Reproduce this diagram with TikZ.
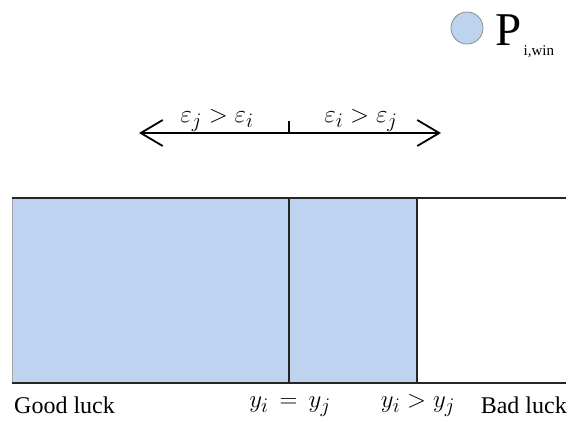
\documentclass[tikz,border=0pt]{standalone}
\usepackage{fontspec}
\setmainfont{Liberation Serif}
\usetikzlibrary{arrows.meta}
\definecolor{winblue}{HTML}{BDD3F0}
\begin{document}
\begin{tikzpicture}[x=1pt,y=-1pt,
  axis/.style={line width=1.8pt,black!85},
  divline/.style={line width=1.5pt,black!85},
  chev/.style={-{Straight Barb[length=22pt,width=26pt,line width=1.8pt]}},
  lbl/.style={inner sep=0pt,font=\fontsize{24}{28}\selectfont},
  mlbl/.style={inner sep=0pt,font=\fontsize{28}{32}\selectfont}]
\useasboundingbox (0,0) rectangle (569,421);
% shaded region
\fill[winblue,draw=black!35,line width=0.6pt] (12,198) rectangle (417,383);
% axis lines
\coordinate (tl) at (12,198);
\coordinate (tr) at (566,198);
\coordinate (bl) at (12,383);
\coordinate (br) at (566,383);
\draw[axis] (tl) -- (tr);
\draw[axis] (bl) -- (br);
% dividers
\coordinate (m1t) at (289,198);
\coordinate (m1b) at (289,383);
\coordinate (m2t) at (417,198);
\coordinate (m2b) at (417,383);
\draw[divline] (m1t) -- (m1b);
\draw[divline] (m2t) -- (m2b);
% arrow
\coordinate (ac) at (289,133);
\coordinate (atk) at (289,121);
\coordinate (al) at (139,133);
\coordinate (ar) at (441,133);
\draw[line width=1.8pt,chev] (ac) -- (al);
\draw[line width=1.8pt,chev] (ac) -- (ar);
\draw[line width=1.5pt] (ac) -- (atk);
\node[mlbl,anchor=base] (e1) at (217,122) {$\varepsilon_j > \varepsilon_i$};
\node[mlbl,anchor=base] (e2) at (361,122) {$\varepsilon_i > \varepsilon_j$};
% legend
\node[circle,fill=winblue,draw=black!45,line width=0.8pt,minimum size=32pt,inner sep=0pt] (leg) at (467,28) {};
\node[anchor=base west,inner sep=0pt,font=\fontsize{47}{50}\selectfont] (P) at (495,45) {P};
\node[anchor=base west,inner sep=0pt,font=\fontsize{15}{17}\selectfont] (sub) at (P.base east) [xshift=2pt,yshift=-10pt] {i,win};
% bottom labels
\node[lbl,anchor=base west] (good) at (14,413) {Good luck};
\node[lbl,anchor=base east] (bad) at (567,413) {Bad luck};
\node[mlbl,anchor=base] (eq) at (290,407) {$y_i \mathrel{\,=\,} y_j$};
\node[mlbl,anchor=base] (gt) at (418,407) {$y_i > y_j$};
\end{tikzpicture}
\end{document}
